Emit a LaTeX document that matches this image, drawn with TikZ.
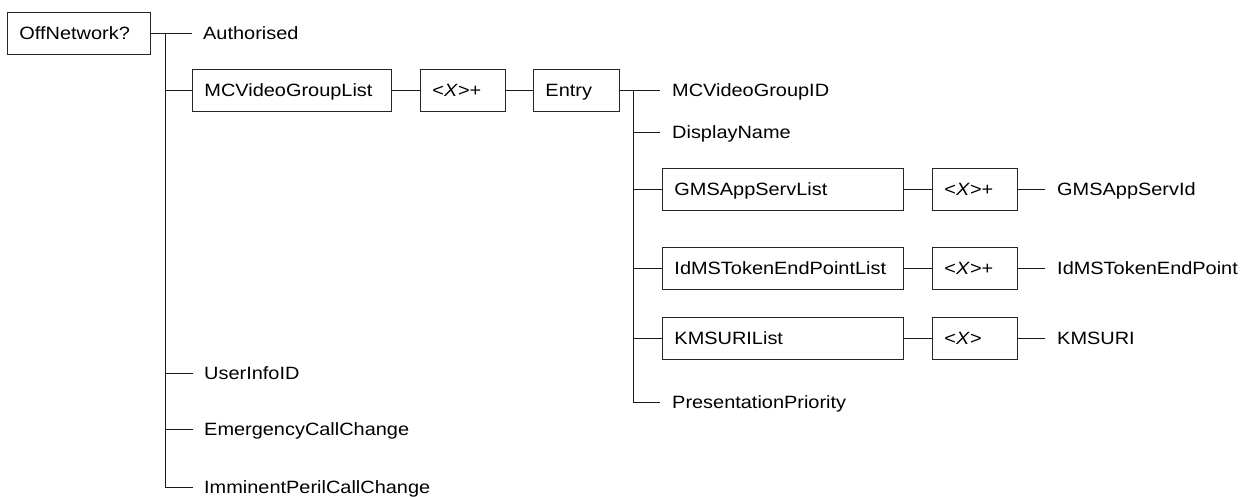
\documentclass[tikz,border=0pt]{standalone}
\usepackage{fontspec}
\setmainfont[FakeStretch=1.12]{Liberation Sans}
\begin{document}
\begin{tikzpicture}[x=1pt,y=-1pt,
  every node/.style={font=\fontsize{17.8pt}{20pt}\selectfont, text height=12.8pt, text depth=0pt},
  box/.style={draw=black!85, line width=0.9pt, minimum height=42pt, inner xsep=12pt, inner ysep=0pt, align=left, anchor=west},
  leaf/.style={anchor=west, inner sep=0pt},
  conn/.style={draw=black!90, line width=0.9pt}]
\useasboundingbox (0,0) rectangle (1244,497);
% boxes
\node[box, text width=119pt] (off) at (7,33) {OffNetwork?};
\node[box, text width=175pt] (mcv) at (192,90) {MCVideoGroupList};
\node[box, text width=61pt] (x1) at (420,90) {<\textit{X}>+};
\node[box, text width=62pt] (entry) at (533,90) {Entry};
\node[box, text width=217pt] (gms) at (662,189) {GMSAppServList};
\node[box, text width=61pt] (x2) at (932,189) {<\textit{X}>+};
\node[box, text width=217pt] (idms) at (662,268) {IdMSTokenEndPointList};
\node[box, text width=61pt] (x3) at (932,268) {<\textit{X}>+};
\node[box, text width=217pt] (kms) at (662,338) {KMSURIList};
\node[box, text width=61pt] (x4) at (932,338) {<\textit{X}>};
% leaves
\node[leaf] (auth) at (203,33) {Authorised};
\node[leaf] (uid) at (204,373) {UserInfoID};
\node[leaf] (emc) at (204,429) {EmergencyCallChange};
\node[leaf] (ipc) at (204,487) {ImminentPerilCallChange};
\node[leaf] (mvid) at (672,90) {MCVideoGroupID};
\node[leaf] (dn) at (672,132) {DisplayName};
\node[leaf] (pp) at (672,402) {PresentationPriority};
\node[leaf] (gid) at (1057,189) {GMSAppServId};
\node[leaf] (iep) at (1057,268) {IdMSTokenEndPoint};
\node[leaf] (kuri) at (1057,338) {KMSURI};
% trunk coordinates
\coordinate (t1) at (165,33);
\coordinate (t2) at (633,90);
% left trunk
\draw[conn] (off.east) -- ([xshift=-11pt]auth.west);
\draw[conn] (t1) |- ([xshift=-11pt]ipc.west);
\draw[conn] (t1|-mcv.west) -- (mcv.west);
\draw[conn] (t1|-uid.west) -- ([xshift=-11pt]uid.west);
\draw[conn] (t1|-emc.west) -- ([xshift=-11pt]emc.west);
% mcv chain
\draw[conn] (mcv.east) -- (x1.west);
\draw[conn] (x1.east) -- (entry.west);
% entry trunk
\draw[conn] (entry.east) -- ([xshift=-12pt]mvid.west);
\draw[conn] (t2) |- ([xshift=-12pt]pp.west);
\draw[conn] (t2|-dn.west) -- ([xshift=-12pt]dn.west);
\draw[conn] (t2|-gms.west) -- (gms.west);
\draw[conn] (t2|-idms.west) -- (idms.west);
\draw[conn] (t2|-kms.west) -- (kms.west);
% right chains
\draw[conn] (gms.east) -- (x2.west);
\draw[conn] (x2.east) -- ([xshift=-12pt]gid.west);
\draw[conn] (idms.east) -- (x3.west);
\draw[conn] (x3.east) -- ([xshift=-12pt]iep.west);
\draw[conn] (kms.east) -- (x4.west);
\draw[conn] (x4.east) -- ([xshift=-12pt]kuri.west);
\end{tikzpicture}
\end{document}
